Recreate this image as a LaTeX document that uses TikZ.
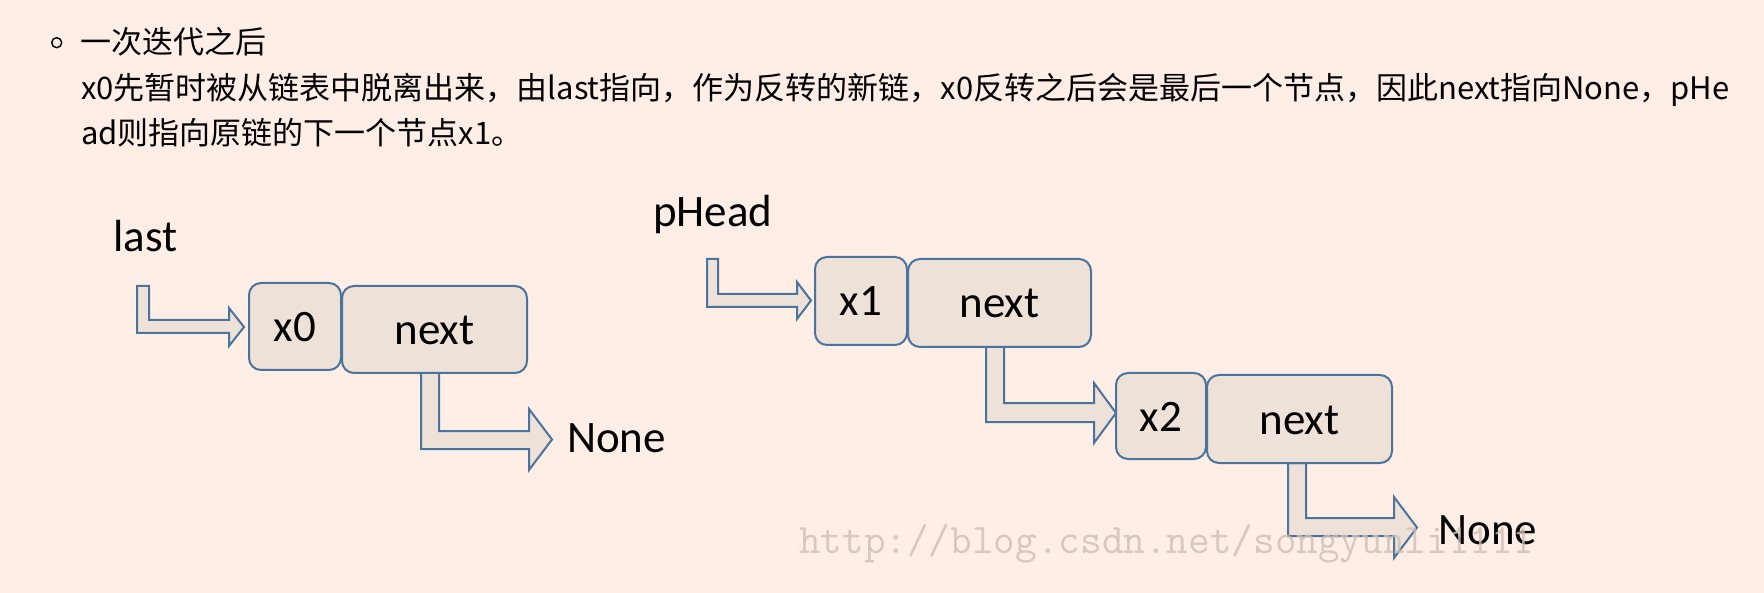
\documentclass[tikz,border=0pt]{standalone}
\usepackage{fontspec}
\setmainfont{Carlito}
\newfontfamily\cjk{Noto Sans CJK SC}
\setmonofont{Latin Modern Mono}
\definecolor{bg}{RGB}{255,238,230}
\definecolor{boxf}{RGB}{238,225,216}
\definecolor{bord}{RGB}{74,116,158}
\definecolor{wm}{RGB}{205,190,182}
\begin{document}
\begin{tikzpicture}[x=1pt,y=-1pt]
\tikzset{
  cell/.style={draw=bord, fill=boxf, line width=2pt, rounded corners=12pt,
    minimum height=87pt, inner sep=0pt, text height=30pt, text depth=0pt,
    font=\fontsize{45}{45}\selectfont},
  barrow/.style={draw=bord, fill=boxf, line width=2pt, line join=miter},
  lab/.style={anchor=base west, inner sep=0pt, font=\fontsize{45}{45}\selectfont},
  head/.style={anchor=base west, inner sep=0pt, font=\cjk\fontsize{31}{31}\selectfont}
}
\fill[bg] (0,0) rectangle (1764,593);
\useasboundingbox (0,0) rectangle (1764,593);

% header
\node[circle, draw=black, line width=1.4pt, minimum size=10pt, inner sep=0pt] (bul) at (56.7,42.7) {};
\node[head] (h1) at (80,54) {一次迭代之后};
\node[head] (h2) at (81,100) {x0先暂时被从链表中脱离出来，由last指向，作为反转的新链，x0反转之后会是最后一个节点，因此next指向None，pHe};
\node[head] (h3) at (81,145) {ad则指向原链的下一个节点x1。};

% labels
\node[lab] (last) at (113,252) {last};
\node[lab] (phead) at (653,227) {pHead};
\node[lab] (none1) at (567,452) {None};
\node[lab] (none2) at (1438,544) {None};

% block arrows
\draw[barrow] (137,286) coordinate (a1) -- (149,286) -- (149,320) -- (229,320) -- (229,308)
  -- (244,327) -- (229,346) -- (229,333) -- (137,333) -- cycle;
\draw[barrow] (421,373) coordinate (a2) -- (439,373) -- (439,431) -- (529,431) -- (529,409)
  -- (552,439.5) -- (529,470) -- (529,449) -- (421,449) -- cycle;
\draw[barrow] (707,259) coordinate (a3) -- (718,259) -- (718,294) -- (797,294) -- (797,282)
  -- (811,300.5) -- (797,319) -- (797,307) -- (707,307) -- cycle;
\draw[barrow] (986,347) coordinate (a4) -- (1004,347) -- (1004,403) -- (1094,403) -- (1094,383)
  -- (1116,413) -- (1094,443) -- (1094,422) -- (986,422) -- cycle;
\draw[barrow] (1288,463) coordinate (a5) -- (1306,463) -- (1306,518) -- (1394,518) -- (1394,497)
  -- (1417,527.5) -- (1394,558) -- (1394,536) -- (1288,536) -- cycle;

% list cells
\node[cell, minimum width=92pt] (x0) at (295,326.5) {x0};
\node[cell, minimum width=185pt] (n0) at (434.5,329.5) {next};
\node[cell, minimum width=92pt, minimum height=88pt] (x1) at (861,301) {x1};
\node[cell, minimum width=183pt, minimum height=88pt] (n1) at (999.5,303) {next};
\node[cell, minimum width=90pt, minimum height=86pt] (x2) at (1161,416) {x2};
\node[cell, minimum width=185pt, minimum height=88pt] (n2) at (1299.5,419) {next};

% watermark
\node[anchor=base west, inner sep=0pt, text=wm, opacity=0.8,
  font=\ttfamily\fontsize{42}{42}\selectfont] (wmk) at (799,553) {http://blog.csdn.net/songyunli1111};
\end{tikzpicture}
\end{document}
